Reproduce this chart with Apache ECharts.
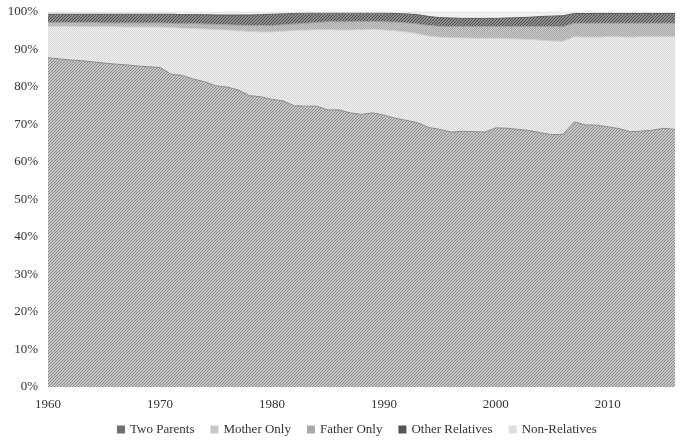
<!DOCTYPE html>
<html><head><meta charset="utf-8">
<script src="https://cdn.jsdelivr.net/npm/echarts@6/dist/echarts.min.js"></script>
<style>html,body{margin:0;padding:0;background:#fff}#c{width:681px;height:441px}</style>
</head><body><div id="c"></div>
<script>
const years = [];
for (let y = 1960; y <= 2016; y++) years.push(String(y));

const twoParents = [87.8,87.5,87.2,87.0,86.7,86.4,86.1,85.9,85.6,85.4,85.2,83.4,83.1,82.1,81.4,80.3,80.0,79.2,77.7,77.4,
  76.7,76.3,75.0,74.9,74.9,73.9,73.9,73.1,72.7,73.1,72.5,71.7,71.1,70.5,69.2,68.7,68.0,68.2,68.1,68.0,
  69.1,69.0,68.7,68.4,67.8,67.3,67.4,70.7,69.9,69.8,69.4,68.9,68.1,68.2,68.5,69.0,68.7];
const motherOnly = [8.4,8.7,9.0,9.1,9.4,9.7,10.0,10.1,10.4,10.6,10.8,12.5,12.6,13.5,14.1,15.0,15.2,15.8,17.1,17.3,
  18.0,18.6,20.1,20.3,20.4,21.4,21.3,22.1,22.6,22.3,22.7,23.3,23.6,23.7,24.4,24.6,25.2,24.9,24.9,25.0,
  23.9,23.9,24.1,24.3,24.7,25.0,24.8,22.7,23.4,23.5,24.0,24.5,25.2,25.2,24.9,24.4,24.7];
const fatherOnly = [1.0,1.0,1.0,1.1,1.1,1.0,1.0,1.1,1.1,1.1,1.1,1.1,1.2,1.3,1.3,1.4,1.4,1.5,1.6,1.7,
  1.7,1.7,1.7,1.8,1.9,2.1,2.2,2.2,2.2,2.1,2.2,2.3,2.4,2.6,2.8,2.9,2.9,3.0,3.1,3.1,
  3.1,3.2,3.3,3.4,3.6,3.8,3.9,3.6,3.7,3.7,3.6,3.6,3.7,3.6,3.6,3.6,3.6];
const otherRelatives = [2.2,2.2,2.2,2.2,2.2,2.3,2.3,2.3,2.3,2.3,2.3,2.4,2.4,2.4,2.5,2.5,2.6,2.7,2.8,2.9,
  3.0,2.9,2.8,2.7,2.5,2.3,2.3,2.3,2.2,2.2,2.3,2.3,2.4,2.5,2.4,2.3,2.3,2.2,2.2,2.2,
  2.2,2.3,2.4,2.5,2.7,2.8,2.9,2.6,2.6,2.6,2.6,2.6,2.6,2.6,2.6,2.6,2.6];
const nonRelatives = [0.6,0.6,0.6,0.6,0.6,0.6,0.6,0.6,0.6,0.6,0.6,0.6,0.7,0.7,0.7,0.8,0.8,0.8,0.8,0.7,
  0.6,0.5,0.4,0.3,0.3,0.3,0.3,0.3,0.3,0.3,0.3,0.4,0.5,0.7,1.2,1.5,1.6,1.7,1.7,1.7,
  1.7,1.6,1.5,1.4,1.2,1.1,1.0,0.4,0.4,0.4,0.4,0.4,0.4,0.4,0.4,0.4,0.4];

const seriesNames = ['Two Parents','Mother Only','Father Only','Other Relatives','Non-Relatives'];
const seriesData = [twoParents, motherOnly, fatherOnly, otherRelatives, nonRelatives];

function hatch(dark, light, kind) {
  if (kind === 'diag') {
    const n = 3;
    const c = document.createElement('canvas');
    c.width = n; c.height = n;
    const ctx = c.getContext('2d');
    ctx.fillStyle = light; ctx.fillRect(0, 0, n, n);
    ctx.fillStyle = dark;
    for (let i = 0; i < n; i++) ctx.fillRect(i, n - 1 - i, 1, 1);
    return { image: c, repeat: 'repeat' };
  }
  const c2 = document.createElement('canvas');
  c2.width = 2; c2.height = 2;
  const x = c2.getContext('2d');
  x.fillStyle = light; x.fillRect(0, 0, 2, 2);
  x.fillStyle = dark; x.fillRect(0, 0, 1, 1); x.fillRect(1, 1, 1, 1);
  return { image: c2, repeat: 'repeat' };
}

const fills = [
  hatch('#8a8a8a', '#c6c6c6', 'diag'),
  hatch('#d8d8d8', '#efefef', 'dots'),
  hatch('#a6a6a6', '#cbcbcb', 'dots'),
  hatch('#4e4e4e', '#8e8e8e', 'diag'),
  hatch('#eaeaea', '#f6f6f6', 'dots')
];
const edge = ['#8a8a8a', '#cfcfcf', '#a0a0a0', '#5a5a5a', '#e0e0e0'];
const legendColors = ['#6f6f6f', '#c8c8c8', '#a8a8a8', '#555555', '#dedede'];

const chart = echarts.init(document.getElementById('c'));
const font = 'Liberation Serif, Times New Roman, serif';
chart.setOption({
  animation: false,
  backgroundColor: '#fff',
  grid: { left: 48, right: 6, top: 12, bottom: 54, containLabel: false },
  legend: {
    top: 418,
    left: 112,
    icon: 'rect',
    itemWidth: 8, itemHeight: 8, itemGap: 16,
    textStyle: { fontFamily: font, fontSize: 13, color: '#333' },
    data: seriesNames.map((n, i) => ({ name: n, itemStyle: { color: legendColors[i] } }))
  },
  xAxis: {
    type: 'category', data: years, boundaryGap: false,
    axisLine: { show: false }, axisTick: { show: false },
    axisLabel: {
      interval: (i, v) => Number(v) % 10 === 0,
      fontFamily: font, fontSize: 13, color: '#333', margin: 11
    },
    splitLine: { show: false }
  },
  yAxis: {
    type: 'value', min: 0, max: 100, interval: 10,
    axisLine: { show: false }, axisTick: { show: false },
    axisLabel: { formatter: '{value}%', fontFamily: font, fontSize: 13, color: '#333', margin: 10 },
    splitLine: { show: false }
  },
  series: seriesNames.map((n, i) => ({
    name: n, type: 'line', stack: 'total', data: seriesData[i],
    symbol: 'none', smooth: false,
    lineStyle: { width: 1, color: edge[i] },
    itemStyle: { color: legendColors[i] },
    areaStyle: { color: fills[i], opacity: 1 }
  }))
});
</script></body></html>
